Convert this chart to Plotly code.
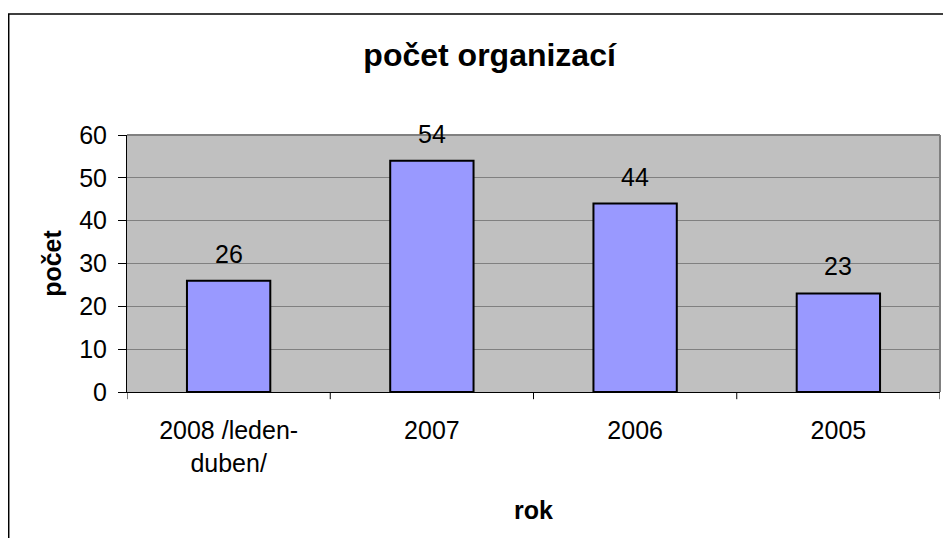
import plotly.graph_objects as go

# categories and values
roky = ["2008 /leden-<br>duben/", "2007", "2006", "2005"]
pocet = [26, 54, 44, 23]
y_ticks = [0, 10, 20, 30, 40, 50, 60]

font_name = "Liberation Sans, Arial, sans-serif"

fig = go.Figure()

fig.add_trace(go.Bar(
    x=list(range(len(roky))),
    y=pocet,
    width=0.41,
    marker=dict(color="#9999FF", line=dict(color="black", width=2)),
    showlegend=False,
    hoverinfo="y",
))

# value labels above the bars
for i, p in enumerate(pocet):
    fig.add_annotation(x=i, y=p, text=str(p), showarrow=False,
                       yanchor="bottom", yshift=11,
                       font=dict(family=font_name, size=25, color="black"))

# page has an 8px body margin, so the figure is a bit smaller than the window
fig.update_layout(
    width=935, height=530,
    margin=dict(l=119, r=3, t=127, b=146, autoexpand=False),
    paper_bgcolor="white",
    plot_bgcolor="#C0C0C0",
    font=dict(family=font_name, size=25, color="black"),
    title=dict(text="<b>počet organizací</b>", x=0.446, xref="paper", xanchor="center",
               y=1 - 47 / 530, yref="container", yanchor="middle",
               font=dict(family=font_name, size=32, color="black")),
)

fig.update_xaxes(
    range=[-0.5, 3.5],
    tickvals=list(range(len(roky))),
    ticktext=roky,
    tickangle=0,
    ticklabelstandoff=16,
    showline=True, linecolor="black", linewidth=1,
    ticks="", showgrid=False, zeroline=False,
    title=dict(text="<b>rok</b>", font=dict(family=font_name, size=25), standoff=25),
)

fig.update_yaxes(
    range=[0, 60],
    tickvals=y_ticks,
    ticklabelstandoff=6,
    showline=True, linecolor="black", linewidth=1,
    ticks="outside", ticklen=8, tickcolor="black",
    showgrid=True, gridcolor="#808080", gridwidth=1,
    zeroline=False,
    title=dict(text="<b>počet</b>", font=dict(family=font_name, size=25), standoff=10),
)

# category boundary tick marks below the x axis
for b in [-0.5, 0.5, 1.5, 2.5, 3.5]:
    fig.add_shape(type="line", xref="x", yref="paper", x0=b, x1=b, y0=0, y1=-0.028,
                  line=dict(color="black", width=1))

# grey frame on top and right of plot area
fig.add_shape(type="line", xref="paper", yref="paper", x0=0, x1=1, y0=1, y1=1,
              line=dict(color="#808080", width=2))
fig.add_shape(type="line", xref="paper", yref="paper", x0=1, x1=1, y0=0, y1=1,
              line=dict(color="#808080", width=2))

# outer chart border
fig.add_shape(type="rect", xref="paper", yref="paper",
              x0=-0.1455, x1=1.05, y0=-0.7, y1=1.4708,
              line=dict(color="black", width=1.5), layer="below")

fig.write_html("out.html")
